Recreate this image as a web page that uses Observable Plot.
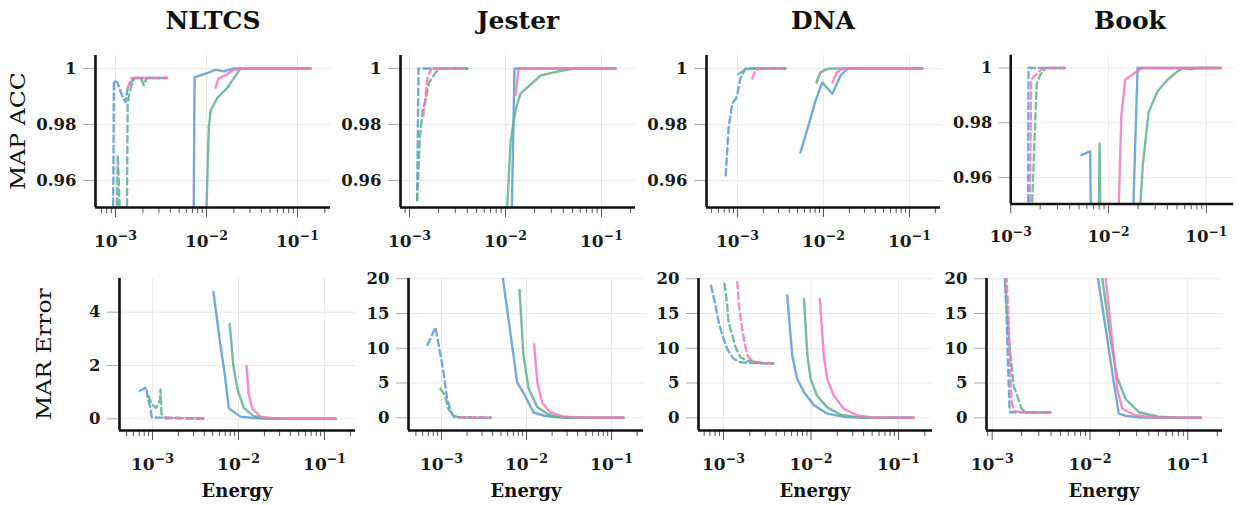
<!DOCTYPE html>
<html><head><meta charset="utf-8">
<script src="https://cdn.jsdelivr.net/npm/d3@7"></script>
<script src="https://cdn.jsdelivr.net/npm/@observablehq/plot@0.6"></script>
<style>
body{margin:0;background:#fff;}
#root{position:relative;width:1245px;height:505px;overflow:hidden;background:#fff;}
.panel{position:absolute;}
.title{position:absolute;font-family:"DejaVu Serif";font-weight:bold;font-size:25px;transform:translate(-50%,-50%);white-space:nowrap;color:#111;}
.xlab{position:absolute;font-family:"DejaVu Serif";font-weight:bold;font-size:18px;transform:translate(-50%,-50%);white-space:nowrap;color:#111;}
.ylab{position:absolute;font-family:"DejaVu Serif";font-size:20px;white-space:nowrap;color:#111;transform:translate(-50%,-50%) rotate(-90deg) scaleX(1.18);}
.panel svg text{font-family:"DejaVu Serif";font-weight:bold;}
</style></head>
<body><div id="root"></div>
<script>
// ---------- data: [energy, value] ----------
const datasets = ["NLTCS","Jester","DNA","Book"];
const rowLabels = ["MAP ACC","MAR Error"];
const accTicks = [0.96,0.98,1];
const marTicksNLTCS = [0,2,4];
const marTicks = [0,5,10,15,20];
const xMajor = [1e-3,1e-2,1e-1];

// NLTCS – MAP ACC
const nltcsAccBlueSolid  = [[0.0072,0.94],[0.0074,0.9968],[0.0105,0.9985],[0.0125,0.9995],[0.0155,0.999],[0.02,1],[0.05,1],[0.139,1]];
const nltcsAccGreenSolid = [[0.0098,0.94],[0.0106,0.979],[0.0111,0.985],[0.0132,0.9896],[0.017,0.9932],[0.0198,0.9964],[0.0237,1],[0.139,1]];
const nltcsAccPinkSolid  = [[0.0126,0.9932],[0.0135,0.9964],[0.017,0.998],[0.02,0.9995],[0.025,1],[0.139,1]];
const nltcsAccBlueDash   = [[0.00094,0.94],[0.00096,0.9957],[0.00105,0.995],[0.00119,0.990],[0.00129,0.988],[0.00136,0.993],[0.00158,0.9966],[0.0037,0.9966]];
const nltcsAccGreenDash  = [[0.00103,0.94],[0.00106,0.969],[0.00114,0.94],[0.00133,0.94],[0.00136,0.987],[0.0014,0.99],[0.0015,0.994],[0.0016,0.9966],[0.0019,0.9966],[0.00205,0.994],[0.0022,0.9966],[0.0037,0.9966]];
const nltcsAccPinkDash   = [[0.00136,0.993],[0.0015,0.9966],[0.0037,0.9966]];
// Jester – MAP ACC
const jesterAccBlueSolid  = [[0.0115,0.94],[0.0124,1],[0.14,1]];
const jesterAccGreenSolid = [[0.0102,0.94],[0.0104,0.95],[0.0113,0.974],[0.0127,0.985],[0.0143,0.991],[0.0168,0.9932],[0.0232,0.9975],[0.0316,0.9986],[0.051,1],[0.14,1]];
const jesterAccPinkSolid  = [[0.0127,0.9904],[0.0137,1],[0.14,1]];
const jesterAccBlueDash   = [[0.0012,0.953],[0.00124,1],[0.004,1]];
const jesterAccGreenDash  = [[0.0012,0.953],[0.00128,0.975],[0.00137,0.985],[0.00147,0.9886],[0.00158,0.9946],[0.00187,0.9986],[0.0021,1],[0.004,1]];
const jesterAccPinkDash   = [[0.0014,0.9832],[0.00154,0.9968],[0.0017,1],[0.004,1]];
// DNA – MAP ACC
const dnaAccBlueSolid  = [[0.0054,0.970],[0.0068,0.9804],[0.0081,0.9886],[0.0097,0.995],[0.0127,0.991],[0.0158,0.9975],[0.019,1],[0.141,1]];
const dnaAccGreenSolid = [[0.0083,0.995],[0.0092,0.9986],[0.0108,0.9997],[0.012,1],[0.141,1]];
const dnaAccPinkSolid  = [[0.0127,0.995],[0.0143,0.9986],[0.016,0.9996],[0.019,1],[0.141,1]];
const dnaAccBlueDash   = [[0.00073,0.9618],[0.00079,0.979],[0.00087,0.9875],[0.00095,0.989],[0.001,0.991],[0.00108,0.9964],[0.00124,1],[0.0036,1]];
const dnaAccGreenDash  = [[0.00103,0.998],[0.0012,0.9993],[0.0014,1],[0.0036,1]];
const dnaAccPinkDash   = [[0.00149,0.9964],[0.0016,0.999],[0.0018,1],[0.0036,1]];
// Book – MAP ACC
const bookAccBlueSolid  = [[0.00528,0.9682],[0.0065,0.9696],[0.0066,0.94],[0.0176,0.94],[0.0198,1],[0.141,1]];
const bookAccGreenSolid = [[0.0079,0.94],[0.0081,0.9725],[0.0083,0.94],[0.0203,0.94],[0.0224,0.9646],[0.0257,0.9839],[0.0316,0.9914],[0.040,0.9957],[0.050,0.9986],[0.058,1],[0.068,0.9995],[0.08,1],[0.141,1]];
const bookAccPinkSolid  = [[0.0125,0.94],[0.0135,0.9825],[0.0148,0.9957],[0.02,0.999],[0.022,1],[0.141,1]];
const bookAccBlueDash   = [[0.0015,0.94],[0.00152,1],[0.0019,1],[0.00355,1]];
const bookAccGreenDash  = [[0.00164,0.94],[0.00166,0.952],[0.00184,0.994],[0.002,0.9975],[0.0023,1],[0.00355,1]];
const bookAccPinkDash   = [[0.00156,0.94],[0.00162,0.9957],[0.0018,0.9975],[0.0021,0.9997],[0.0024,1],[0.00355,1]];

// NLTCS – MAR Error
const nltcsMarBlueSolid  = [[0.0051,4.76],[0.0062,2.7],[0.0069,1.7],[0.0077,0.4],[0.0105,0.08],[0.015,0.03],[0.02,0.01],[0.03,0],[0.134,0]];
const nltcsMarGreenSolid = [[0.0079,3.56],[0.0087,2.0],[0.0097,1.12],[0.0115,0.41],[0.015,0.1],[0.02,0.03],[0.03,0.005],[0.134,0]];
const nltcsMarPinkSolid  = [[0.0124,1.98],[0.0131,0.96],[0.0145,0.37],[0.018,0.08],[0.025,0.02],[0.04,0],[0.134,0]];
const nltcsMarBlueDash   = [[0.00071,1.05],[0.00085,1.18],[0.00087,0.85],[0.00093,0.5],[0.00098,0.05],[0.0039,0.01]];
const nltcsMarGreenDash  = [[0.0009,0.86],[0.00097,0.56],[0.0011,0.41],[0.00122,0.7],[0.00124,1.1],[0.00127,0.2],[0.0014,0.04],[0.0039,0.01]];
const nltcsMarPinkDash   = [[0.0014,0.02],[0.0039,0.01]];
// Jester – MAR Error
const jesterMarBlueSolid  = [[0.00515,21],[0.00777,5.1],[0.0092,3.6],[0.0121,0.76],[0.0159,0.33],[0.021,0.1],[0.03,0.02],[0.138,0]];
const jesterMarGreenSolid = [[0.00828,18.4],[0.0092,9.0],[0.0106,4.2],[0.0134,1.5],[0.019,0.33],[0.027,0.05],[0.04,0],[0.138,0]];
const jesterMarPinkSolid  = [[0.0123,10.6],[0.0134,5.1],[0.0153,2.2],[0.019,0.76],[0.027,0.2],[0.04,0.03],[0.06,0],[0.138,0]];
const jesterMarBlueDash   = [[0.000684,10.5],[0.00085,13.0],[0.00092,10.7],[0.00105,6.8],[0.00116,2.8],[0.00128,1.0],[0.0014,0.1],[0.0038,0]];
const jesterMarGreenDash  = [[0.00097,4.2],[0.0011,3.2],[0.0012,1.3],[0.0014,0.3],[0.0016,0.05],[0.0038,0]];
const jesterMarPinkDash   = [[0.0016,0.05],[0.0038,0]];
// DNA – MAR Error
const dnaMarBlueSolid  = [[0.00535,17.6],[0.0061,9.0],[0.00695,5.6],[0.0083,3.7],[0.0108,1.8],[0.0153,0.6],[0.025,0.1],[0.04,0.02],[0.148,0]];
const dnaMarGreenSolid = [[0.0083,17.1],[0.0091,9.0],[0.0099,5.6],[0.0117,3.2],[0.0153,1.5],[0.0217,0.45],[0.035,0.05],[0.148,0]];
const dnaMarPinkSolid  = [[0.0126,17.1],[0.014,9.0],[0.0153,5.6],[0.0182,3.2],[0.0237,1.3],[0.0338,0.33],[0.05,0.05],[0.148,0]];
const dnaMarBlueDash   = [[0.00072,19.0],[0.00081,16.2],[0.00088,13.8],[0.00097,11.9],[0.0011,9.9],[0.0013,8.5],[0.00156,8.0],[0.0025,7.85],[0.0037,7.8]];
const dnaMarGreenDash  = [[0.00103,19.3],[0.0011,16.2],[0.00114,13.8],[0.00126,11.9],[0.00137,10.2],[0.00156,8.7],[0.0019,8.2],[0.0025,7.9],[0.0037,7.8]];
const dnaMarPinkDash   = [[0.00144,19.5],[0.0015,16.2],[0.00159,13.8],[0.00168,11.9],[0.00178,10.2],[0.00193,8.7],[0.0022,8.1],[0.003,7.9],[0.0037,7.8]];
// Book – MAR Error
const bookMarBlueSolid  = [[0.0115,22],[0.015,11.4],[0.0175,5.1],[0.0197,0.6],[0.023,0.3],[0.032,0.05],[0.135,0]];
const bookMarGreenSolid = [[0.0128,22],[0.0162,11.4],[0.019,5.8],[0.0231,2.7],[0.0316,0.8],[0.05,0.15],[0.08,0.02],[0.135,0]];
const bookMarPinkSolid  = [[0.014,22],[0.0168,11.4],[0.019,4.2],[0.0214,1.3],[0.029,0.37],[0.045,0.05],[0.135,0]];
const bookMarBlueDash   = [[0.00135,20.5],[0.0014,15],[0.00145,8],[0.0015,2],[0.00152,0.8],[0.0025,0.75],[0.00394,0.75]];
const bookMarGreenDash  = [[0.00135,19.75],[0.00141,16],[0.00148,11.4],[0.00158,7.5],[0.00166,4.6],[0.0018,3.2],[0.002,1.3],[0.0022,0.8],[0.00394,0.75]];
const bookMarPinkDash   = [[0.0014,20.5],[0.00148,13.8],[0.00153,6.6],[0.00158,2.2],[0.0017,0.9],[0.0025,0.75],[0.00394,0.75]];

// ---------- styling / layout ----------
const COLORS = {blue:"#5b9bd5", green:"#5fb08c", pink:"#f578b9"};
const panels = [
  {L:95,  R:330, T:55,  B:207, lx:[-3.2198,-0.6374], yd:[0.95036,1.00464], yt:accTicks,
   s:[nltcsAccBlueSolid,nltcsAccGreenSolid,nltcsAccPinkSolid,nltcsAccBlueDash,nltcsAccGreenDash,nltcsAccPinkDash]},
  {L:400, R:635, T:55,  B:207, lx:[-3.094,-0.646], yd:[0.95036,1.00464], yt:accTicks,
   s:[jesterAccBlueSolid,jesterAccGreenSolid,jesterAccPinkSolid,jesterAccBlueDash,jesterAccGreenDash,jesterAccPinkDash]},
  {L:706, R:940, T:55,  B:207, lx:[-3.36,-0.6395], yd:[0.95036,1.00464], yt:accTicks,
   s:[dnaAccBlueSolid,dnaAccGreenSolid,dnaAccPinkSolid,dnaAccBlueDash,dnaAccGreenDash,dnaAccPinkDash]},
  {L:1012,R:1240,T:55,  B:207, lx:[-3.0,-0.72], yd:[0.95036,1.00464], yt:accTicks,
   s:[bookAccBlueSolid,bookAccGreenSolid,bookAccPinkSolid,bookAccBlueDash,bookAccGreenDash,bookAccPinkDash]},
  {L:119, R:355, T:278, B:430, lx:[-3.384,-0.640], yd:[-0.44,5.265], yt:marTicksNLTCS,
   s:[nltcsMarBlueSolid,nltcsMarGreenSolid,nltcsMarPinkSolid,nltcsMarBlueDash,nltcsMarGreenDash,nltcsMarPinkDash]},
  {L:408, R:643, T:278, B:430, lx:[-3.388,-0.624], yd:[-1.83,20.04], yt:marTicks,
   s:[jesterMarBlueSolid,jesterMarGreenSolid,jesterMarPinkSolid,jesterMarBlueDash,jesterMarGreenDash,jesterMarPinkDash]},
  {L:698, R:932, T:278, B:430, lx:[-3.286,-0.611], yd:[-1.83,20.04], yt:marTicks,
   s:[dnaMarBlueSolid,dnaMarGreenSolid,dnaMarPinkSolid,dnaMarBlueDash,dnaMarGreenDash,dnaMarPinkDash]},
  {L:986, R:1222,T:278, B:430, lx:[-3.058,-0.645], yd:[-1.83,20.04], yt:marTicks,
   s:[bookMarBlueSolid,bookMarGreenSolid,bookMarPinkSolid,bookMarBlueDash,bookMarGreenDash,bookMarPinkDash]}
];
const seriesStyle = [
  {c:"blue",d:null},{c:"green",d:null},{c:"pink",d:null},
  {c:"blue",d:"6.5,4"},{c:"green",d:"6.5,4"},{c:"pink",d:"6.5,4"}
];
const drawOrder = [0,3,1,4,2,5];

const root = document.getElementById("root");
const ML=80, MR=12, MT=10, MB=52;

function supers(svg){
  svg.querySelectorAll('g[aria-label="x-axis tick label"] text').forEach(t=>{
    const s=t.textContent; if(!s) return;
    t.textContent="";
    t.appendChild(document.createTextNode("10"));
    const ts=document.createElementNS("http://www.w3.org/2000/svg","tspan");
    ts.setAttribute("dy","-0.5em"); ts.setAttribute("font-size","0.74em");
    ts.textContent=s.replace("-","\u2212");
    t.appendChild(ts);
  });
}

panels.forEach(p=>{
  const xd=[10**p.lx[0],10**p.lx[1]];
  const minor=[];
  for(let k=-4;k<=0;k++) for(let m=2;m<=9;m++){const v=m*10**k; if(v>=xd[0]&&v<=xd[1]) minor.push(v);}
  const major=xMajor.filter(v=>v>=xd[0]*0.999&&v<=xd[1]);
  const fmtY = p.yt===accTicks ? (d=>d===1?"1":d.toFixed(2)) : (d=>String(d));
  const marks=[
    Plot.gridY(p.yt,{stroke:"#e8e8e8",strokeOpacity:1}),
    Plot.gridX(major,{stroke:"#e8e8e8",strokeOpacity:1}),
    Plot.axisY(p.yt,{anchor:"left",tickSize:12,tickPadding:7,stroke:"#aaa",fill:"#1a1a1a",fontSize:16.5,tickFormat:fmtY}),
    Plot.axisX(minor,{anchor:"bottom",tickSize:6,stroke:"#555",tickFormat:()=>""}),
    Plot.axisX(major,{anchor:"bottom",tickSize:10,tickPadding:17,stroke:"#555",fill:"#1a1a1a",fontSize:17,tickFormat:d=>String(Math.round(Math.log10(d)))})
  ];
  drawOrder.forEach(i=>{
    const st=seriesStyle[i];
    marks.push(Plot.line(p.s[i],{x:d=>d[0],y:d=>d[1],stroke:COLORS[st.c],strokeWidth:2.4,strokeOpacity:0.85,
      strokeDasharray:st.d||undefined,clip:true}));
  });
  marks.push(Plot.ruleX([xd[0]],{stroke:"#111",strokeWidth:2.6}));
  marks.push(Plot.ruleY([p.yd[0]],{stroke:"#111",strokeWidth:2.6}));
  const w=ML+(p.R-p.L)+MR, h=MT+(p.B-p.T)+MB;
  const svg=Plot.plot({
    width:w,height:h,marginLeft:ML,marginRight:MR,marginTop:MT,marginBottom:MB,
    x:{type:"log",domain:xd},
    y:{domain:p.yd},
    style:{background:"transparent",overflow:"visible"},
    marks
  });
  supers(svg);
  const div=document.createElement("div");
  div.className="panel";
  div.style.left=(p.L-ML)+"px"; div.style.top=(p.T-MT)+"px";
  div.appendChild(svg);
  root.appendChild(div);
});

// titles, axis labels
const titleX=[213,518,823,1130];
datasets.forEach((name,i)=>{
  const d=document.createElement("div"); d.className="title"; d.textContent=name;
  d.style.left=titleX[i]+"px"; d.style.top="20px"; root.appendChild(d);
});
const energyX=[237,526,815,1104];
energyX.forEach(x=>{
  const d=document.createElement("div"); d.className="xlab"; d.textContent="Energy";
  d.style.left=x+"px"; d.style.top="490px"; root.appendChild(d);
});
[[18,131],[44,354]].forEach(([x,y],i)=>{
  const d=document.createElement("div"); d.className="ylab"; d.textContent=rowLabels[i];
  d.style.left=x+"px"; d.style.top=y+"px"; root.appendChild(d);
});
</script>
</body></html>
